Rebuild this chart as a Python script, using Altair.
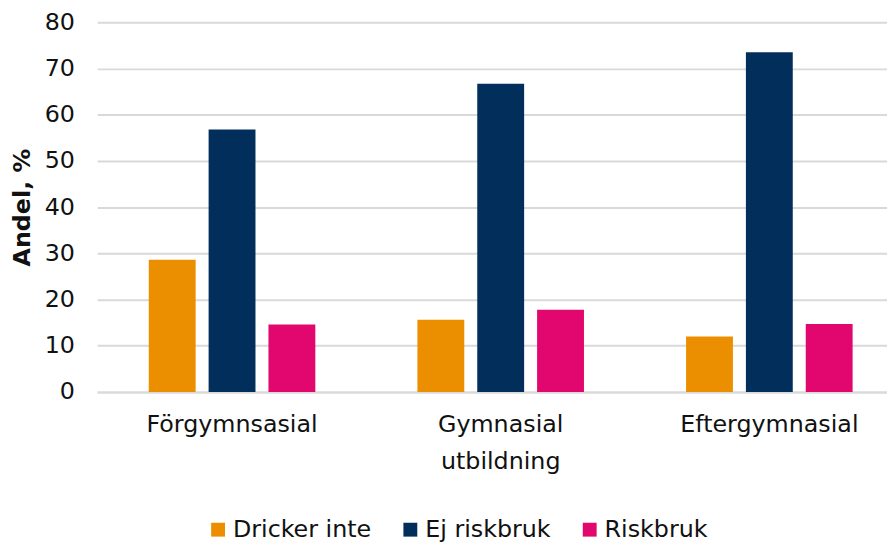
import altair as alt
import pandas as pd

categories = ["Förgymnsasial", "Gymnasial utbildning", "Eftergymnasial"]
series = ["Dricker inte", "Ej riskbruk", "Riskbruk"]
dricker_inte = [28.6, 15.6, 12.0]
ej_riskbruk = [56.8, 66.7, 73.5]
riskbruk = [14.6, 17.8, 14.7]
colors = ["#EB8F00", "#012E5A", "#E2076F"]

rows = []
for i, c in enumerate(categories):
    for s, vals in zip(series, [dricker_inte, ej_riskbruk, riskbruk]):
        rows.append({"Kategori": c, "Serie": s, "Andel": vals[i]})
df = pd.DataFrame(rows)

FONT = "DejaVu Sans"

chart = alt.Chart(df).mark_bar().encode(
    x=alt.X("Kategori:N", sort=categories,
            scale=alt.Scale(paddingInner=0.38, paddingOuter=0.16, align=0.6),
            axis=alt.Axis(title=None, labelAngle=0, labelFontSize=24, labelFont=FONT,
                          labelColor="#111", ticks=False, domainColor="#d9d9d9",
                          domainWidth=2, labelPadding=21, labelLineHeight=37,
                          labelLimit=0, labelExpr="split(datum.value, ' ')")),
    xOffset=alt.XOffset("Serie:N", sort=series,
                        scale=alt.Scale(paddingInner=0.217, paddingOuter=0)),
    y=alt.Y("Andel:Q", scale=alt.Scale(domain=[0, 80], nice=False),
            axis=alt.Axis(title="Andel, %", values=list(range(0, 81, 10)),
                          labelFontSize=24, labelFont=FONT, labelColor="#111",
                          titleFontSize=24, titleFont=FONT, titleFontWeight="bold",
                          titleColor="#111", titlePadding=10,
                          ticks=False, domain=False, labelPadding=23,
                          gridColor="#d9d9d9", gridWidth=2)),
    color=alt.Color("Serie:N", sort=series,
                    scale=alt.Scale(domain=series, range=colors),
                    legend=alt.Legend(title=None, orient="none", direction="horizontal",
                                      legendX=110, legendY=500, padding=0,
                                      symbolType="square", symbolSize=196,
                                      symbolStrokeWidth=0, labelFontSize=24,
                                      labelFont=FONT, labelColor="#111",
                                      labelOffset=3, columnPadding=27)),
).properties(
    width=797, height=373,
    autosize=alt.AutoSizeParams(type="none"),
    padding={"left": 90, "top": 12, "right": 0, "bottom": 149},
).configure_view(stroke=None)

chart.save("out.html", embed_options={"renderer": "svg", "actions": False})
